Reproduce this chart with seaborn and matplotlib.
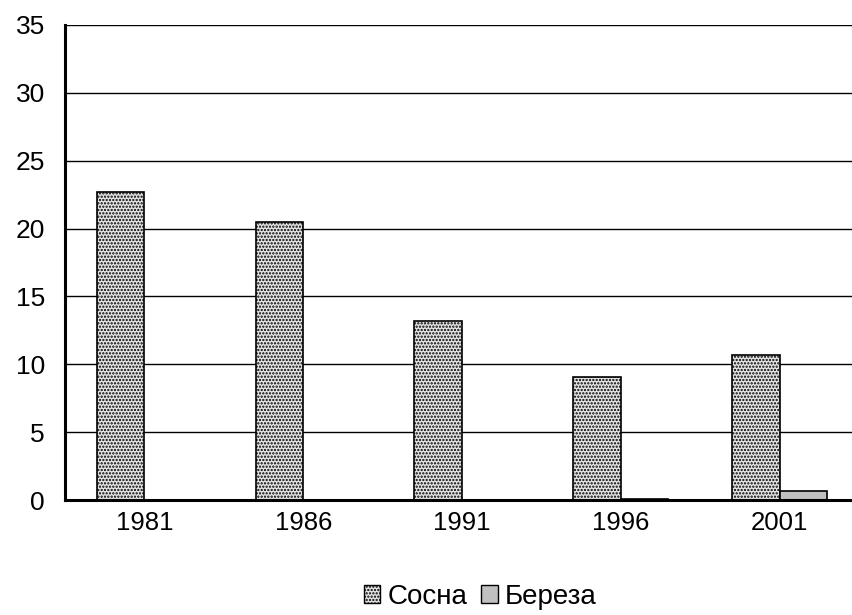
import pandas as pd
import seaborn as sns
import matplotlib.pyplot as plt
from matplotlib.ticker import FixedLocator

years = ['1981', '1986', '1991', '1996', '2001']
sosna = [22.7, 20.5, 13.2, 9.1, 10.7]
bereza = [0.0, 0.0, 0.0, 0.1, 0.7]
series_names = ['Сосна', 'Береза']

df = pd.DataFrame({
    'year': years * 2,
    'value': sosna + bereza,
    'species': [series_names[0]] * len(years) + [series_names[1]] * len(years),
})

sns.set_style('white')
plt.rcParams['font.family'] = ['Liberation Sans', 'DejaVu Sans']
plt.rcParams['font.size'] = 19
plt.rcParams['text.color'] = 'black'
plt.rcParams['xtick.color'] = 'black'
plt.rcParams['ytick.color'] = 'black'
plt.rcParams['hatch.linewidth'] = 1.1

fig = plt.figure(figsize=(8.53, 6.15), dpi=100)
ax = fig.add_axes([65 / 853, 115 / 615, 794 / 853, 475 / 615])

sns.barplot(data=df, x='year', y='value', hue='species', width=0.6,
            palette=['#e4e4e4', '#c0c0c0'], edgecolor='black', linewidth=1.2,
            legend=False, ax=ax)

# dotted texture on the pine bars
for bar in ax.containers[0]:
    bar.set_hatch('.....')

ax.set_xlim(-0.5, len(years) - 0.5)
ax.set_ylim(0, 35)
ax.set_yticks(range(0, 36, 5))
ax.set_xlabel('')
ax.set_ylabel('')

ax.yaxis.grid(True, color='black', linewidth=1.0)
ax.set_axisbelow(True)

for s in ['top', 'right']:
    ax.spines[s].set_visible(False)
for s in ['left', 'bottom']:
    ax.spines[s].set_linewidth(2.2)
    ax.spines[s].set_color('black')

ax.tick_params(axis='y', direction='out', length=6.5, width=2, pad=8, labelsize=19)
ax.tick_params(axis='x', which='major', length=0, pad=8, labelsize=18.5)
ax.xaxis.set_minor_locator(FixedLocator([i - 0.5 for i in range(len(years) + 1)]))
ax.tick_params(axis='x', which='minor', direction='out', length=7, width=2)

handles = [
    plt.Rectangle((0, 0), 1, 1, facecolor='#e4e4e4', edgecolor='black', hatch='.....', linewidth=1),
    plt.Rectangle((0, 0), 1, 1, facecolor='#c0c0c0', edgecolor='black', linewidth=1),
]
fig.legend(handles, series_names, loc='center', bbox_to_anchor=(480 / 853, 18 / 615),
           ncol=2, frameon=False, handlelength=0.6, handleheight=0.6,
           handletextpad=0.25, columnspacing=0.5, fontsize=20)

fig.savefig('out.png', dpi=100)
